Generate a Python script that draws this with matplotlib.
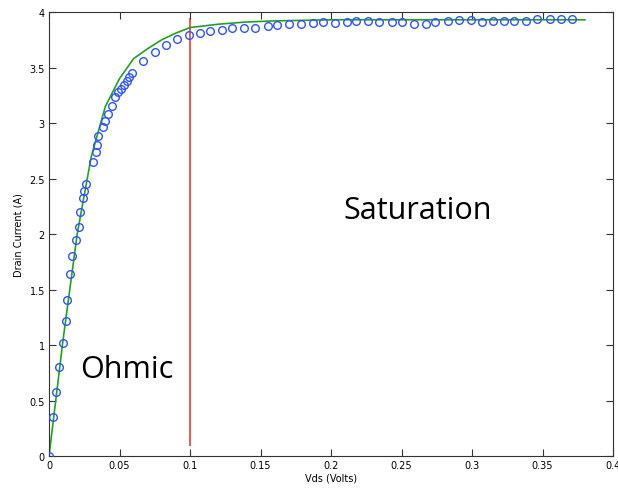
import matplotlib
matplotlib.use("Agg")
import matplotlib.pyplot as plt

# measured points (Vds in volts, drain current)
vds_meas = [0.0, 0.003, 0.005, 0.007, 0.010, 0.012, 0.013, 0.015, 0.016, 0.019,
            0.021, 0.022, 0.024, 0.025, 0.026, 0.031, 0.033, 0.034, 0.035, 0.038,
            0.040, 0.042, 0.045, 0.047, 0.049, 0.051, 0.053, 0.055, 0.057, 0.059,
            0.067, 0.075, 0.083, 0.091, 0.099, 0.107, 0.114, 0.123, 0.130, 0.138,
            0.146, 0.155, 0.162, 0.170, 0.179, 0.187, 0.194, 0.203, 0.211, 0.218,
            0.226, 0.234, 0.243, 0.250, 0.259, 0.267, 0.274, 0.283, 0.291, 0.299,
            0.307, 0.315, 0.323, 0.330, 0.338, 0.346, 0.355, 0.363, 0.371]
id_meas = [0.0, 0.35, 0.58, 0.80, 1.02, 1.22, 1.41, 1.64, 1.80, 1.95,
           2.06, 2.20, 2.32, 2.39, 2.45, 2.65, 2.74, 2.80, 2.88, 2.96,
           3.02, 3.08, 3.15, 3.23, 3.28, 3.31, 3.34, 3.38, 3.41, 3.45,
           3.56, 3.64, 3.70, 3.76, 3.79, 3.81, 3.83, 3.84, 3.86, 3.86,
           3.86, 3.87, 3.88, 3.89, 3.89, 3.90, 3.91, 3.90, 3.91, 3.92,
           3.92, 3.91, 3.91, 3.91, 3.89, 3.89, 3.91, 3.92, 3.93, 3.925,
           3.91, 3.92, 3.92, 3.92, 3.92, 3.94, 3.94, 3.94, 3.94]

# model curve
vds_model = [0.0, 0.01, 0.02, 0.03, 0.04, 0.05, 0.06, 0.07, 0.08, 0.09,
             0.10, 0.12, 0.14, 0.16, 0.20, 0.25, 0.30, 0.35, 0.38]
id_model = [0.0, 1.05, 2.0, 2.7, 3.15, 3.40, 3.58, 3.67, 3.75, 3.81,
            3.86, 3.89, 3.91, 3.92, 3.93, 3.93, 3.93, 3.93, 3.93]

boundary_v = 0.1
xticks = [0, 0.05, 0.1, 0.15, 0.2, 0.25, 0.3, 0.35, 0.4]
xticklabels = ["0", "0.05", "0.1", "0.15", "0.2", "0.25", "0.3", "0.35", "0.4"]
yticks = [0, 0.5, 1, 1.5, 2, 2.5, 3, 3.5, 4]
yticklabels = ["0", "0.5", "1", "1.5", "2", "2.5", "3", "3.5", "4"]

fig = plt.figure(figsize=(6.18, 4.89), dpi=100)
ax = fig.add_axes([0.0793, 0.0654, 0.9127, 0.908])

ax.plot(vds_model, id_model, color="#23a023", lw=1.2, zorder=2)
ax.plot(vds_meas, id_meas, "o", mfc="none", mec="#2f52ff", ms=5.5, mew=1.0, zorder=3)
ax.plot([boundary_v, boundary_v], [0.1, 3.94], color="#d9665e", lw=1.5, zorder=1)

ax.text(0.022, 0.78, "Ohmic", fontsize=22, family="Open Sans", va="center")
ax.text(0.209, 2.22, "Saturation", fontsize=22, family="Open Sans", va="center")

ax.set_xlim(0, 0.4)
ax.set_ylim(0, 4)
ax.set_xticks(xticks)
ax.set_xticklabels(xticklabels)
ax.set_yticks(yticks)
ax.set_yticklabels(yticklabels)
ax.tick_params(direction="in", length=5, labelsize=7, top=True, right=True,
               color="#333333", pad=3)
for s in ax.spines.values():
    s.set_color("#333333")
ax.set_xlabel("Vds (Volts)", fontsize=7, labelpad=2)
ax.set_ylabel("Drain Current (A)", fontsize=7, labelpad=4)

fig.savefig("out.png", dpi=100)
